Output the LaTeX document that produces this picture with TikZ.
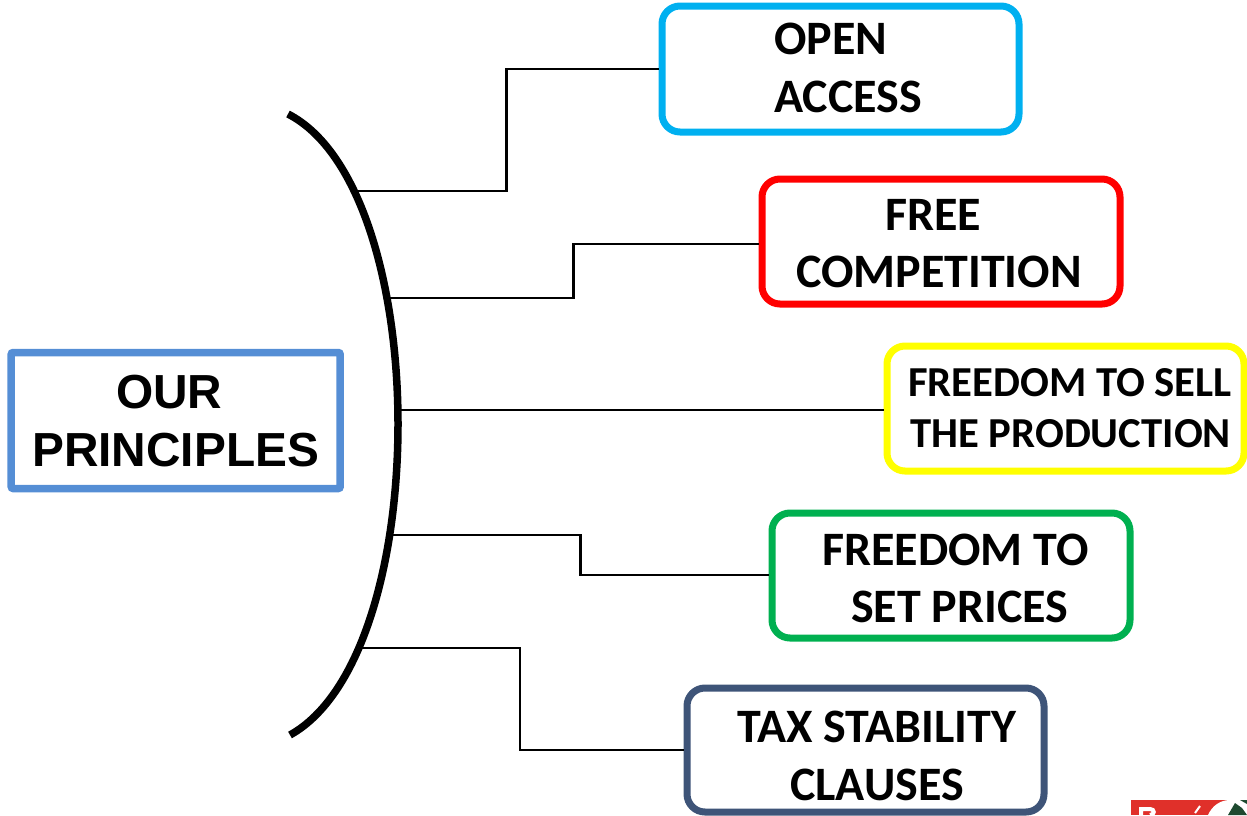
\documentclass[tikz,border=0pt]{standalone}
\usepackage{fontspec}
\setmainfont{Carlito}
\newfontfamily\arialish{Liberation Sans}
\definecolor{cblue}{HTML}{00B0F0}
\definecolor{cgreen}{HTML}{00B050}
\definecolor{cyel}{HTML}{FFFF00}
\definecolor{cnavy}{HTML}{3E5478}
\definecolor{cmain}{HTML}{558ED5}
\definecolor{cbadge}{HTML}{E0302A}
\definecolor{cdark}{HTML}{1E4A30}
\tikzset{x=1pt,y=-1pt,
 pbox/.style={draw,line width=7pt,rounded corners=18pt,fill=white,anchor=north west,inner sep=0pt,outer sep=0pt},
 lab/.style={font=\bfseries\fontsize{48}{48}\selectfont,anchor=base west,inner sep=0pt,text=black},
 labs/.style={font=\bfseries\fontsize{42.7}{43}\selectfont,anchor=base west,inner sep=0pt,text=black},
 labm/.style={font=\arialish\bfseries\fontsize{47.8}{48}\selectfont,anchor=base west,inner sep=0pt,text=black},
 conn/.style={line width=2.2pt,black,shorten >=3.5pt}}
\begin{document}
\begin{tikzpicture}
\useasboundingbox (0,0) rectangle (1247,815);
\draw[line width=7.5pt] (288,114) .. controls (362,152) and (398,290) .. (398,424) .. controls (398,560) and (362,695) .. (290,735);
\node[pbox,draw=cblue,minimum width=357pt,minimum height=126pt] (a) at (662,6) {};
\node[pbox,draw=red,minimum width=358pt,minimum height=125pt] (b) at (762,179) {};
\node[pbox,draw=cyel,minimum width=357pt,minimum height=125pt] (c) at (887,346) {};
\node[pbox,draw=cgreen,minimum width=358pt,minimum height=125pt] (d) at (772,513) {};
\node[pbox,draw=cnavy,minimum width=357pt,minimum height=124pt] (e) at (687,688) {};
\node[draw=cmain,line width=7.5pt,rounded corners=2pt,anchor=north west,minimum width=329pt,minimum height=136pt,inner sep=0pt,outer sep=0pt] (m) at (11.2,352.5) {};
\coordinate (ca) at (356,191);
\coordinate (cb) at (389,298);
\coordinate (cc) at (398,410);
\coordinate (cd) at (391,535);
\coordinate (ce) at (359,648);
\draw[conn] (ca) -| (506.5,69) -- (a.west |- 0,69);
\draw[conn] (cb) -| (573.5,244) -- (b.west |- 0,244);
\draw[conn] (cc) -- (c.west |- cc);
\draw[conn] (cd) -| (580.5,575) -- (d.west |- 0,575);
\draw[conn] (ce) -| (520,750) -- (e.west |- 0,750);
\node[lab] (t1) at (774,54) {OPEN};
\node[lab] (t2) at (774,112) {ACCESS};
\node[lab] (t3) at (885,230) {FREE};
\node[lab] (t4) at (796,287) {COMPETITION};
\node[labs] (t5) at (908,396) {FREEDOM TO SELL};
\node[labs] (t6) at (910,447) {THE PRODUCTION};
\node[lab] (t7) at (822,565) {FREEDOM TO};
\node[lab] (t8) at (851,622) {SET PRICES};
\node[lab] (t9) at (737,742) {TAX STABILITY};
\node[lab] (t10) at (790,800) {CLAUSES};
\node[labm] (t11) at (116,408) {OUR};
\node[labm] (t12) at (32,466) {PRINCIPLES};
\begin{scope}
\clip (1131,800) rectangle (1247,815);
\fill[cbadge] (1131,800) rectangle (1247,815);
\draw[white,line width=4pt] (1141,815) -- (1141,809) -- (1150,809) .. controls (1155,809) and (1155,815) .. (1150,815);
\draw[white,line width=2pt] (1195,813) -- (1200,806);
\fill[white] (1208,815) .. controls (1212,806) and (1220,800) .. (1230,800) -- (1247,800) -- (1247,815) -- cycle;
\fill[cdark] (1235,803) -- (1228,815) -- (1247,815) -- (1242,808) -- cycle;
\fill[cdark] (1240,800) -- (1247,800) -- (1247,804) -- cycle;
\end{scope}
\end{tikzpicture}
\end{document}
